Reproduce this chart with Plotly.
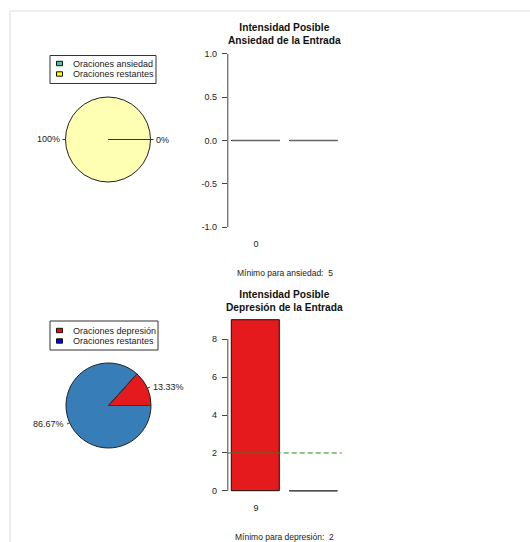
import math
import plotly.graph_objects as go

W, H = 530, 542

# ---------------- data ----------------
pie1_labels = ["Oraciones ansiedad", "Oraciones restantes"]
pie1_values = [0, 15]
pie1_colors = ["#8DD3C7", "#FFFFB3"]
leg1_colors = ["#45C6AC", "#FFFF00"]

pie2_labels = ["Oraciones depresión", "Oraciones restantes"]
pie2_values = [2, 13]
pie2_colors = ["#E41A1C", "#377EB8"]
leg2_colors = ["#FF0000", "#0000FF"]

bar1_names = ["0", ""]
bar1_values = [0, 0]
bar1_title = "Intensidad Posible<br>Ansiedad de la Entrada"
bar1_min_label = "Mínimo para ansiedad:\u00a0 5"
bar1_min = 5
bar1_yticks = [-1.0, -0.5, 0.0, 0.5, 1.0]

bar2_names = ["9", ""]
bar2_values = [9, 0]
bar2_title = "Intensidad Posible<br>Depresión de la Entrada"
bar2_min_label = "Mínimo para depresión:\u00a0 2"
bar2_min = 2
bar2_yticks = [0, 2, 4, 6, 8]

# ---------------- helpers ----------------
def px(x):
    return x / W

def py(y):
    return 1 - y / H

TXT = "#222222"
FONT = "Liberation Sans, Arial, sans-serif"

fig = go.Figure()
shapes = []
annotations = []

# frame lines of the screenshot
shapes.append(dict(type="line", xref="paper", yref="paper", x0=px(10), x1=px(530), y0=py(11), y1=py(11),
                   line=dict(color="#e8e8e8", width=1.5)))
shapes.append(dict(type="line", xref="paper", yref="paper", x0=px(10), x1=px(10), y0=py(11), y1=py(542),
                   line=dict(color="#e8e8e8", width=1.5)))


def add_pie(labels, values, colors, cx, cy, r):
    total = sum(values)
    # plotly places the first counterclockwise slice clockwise of 'rotation'; shift so it starts at 3 o'clock
    rot = 90 - 360 * values[0] / total
    fig.add_trace(go.Pie(
        labels=labels, values=values, sort=False, direction="counterclockwise", rotation=rot,
        marker=dict(colors=colors, line=dict(color="#222", width=1)),
        textinfo="none", hoverinfo="label+percent", showlegend=False,
        domain=dict(x=[px(cx - r), px(cx + r)], y=[py(cy + r), py(cy - r)]),
    ))
    cum = 0
    for v in values:
        a0 = 2 * math.pi * cum / total
        shapes.append(dict(type="line", xref="paper", yref="paper",
                           x0=px(cx), y0=py(cy), x1=px(cx + r * math.cos(a0)), y1=py(cy - r * math.sin(a0)),
                           line=dict(color="#333", width=1)))
        am = 2 * math.pi * (cum + v / 2) / total
        c, s = math.cos(am), math.sin(am)
        shapes.append(dict(type="line", xref="paper", yref="paper",
                           x0=px(cx + r * c), y0=py(cy - r * s), x1=px(cx + 1.07 * r * c), y1=py(cy - 1.07 * r * s),
                           line=dict(color="#333", width=1)))
        pct = round(100 * v / total, 2)
        annotations.append(dict(x=px(cx + 1.09 * r * c), y=py(cy - 1.09 * r * s), xref="paper", yref="paper",
                                text=f"{pct:g}%", showarrow=False,
                                xanchor="left" if c > 0 else "right", yanchor="middle",
                                font=dict(size=9, color=TXT, family=FONT)))
        cum += v


def add_legend(labels, colors, x0, y0, x1, y1, row_y, text_x, sq_x):
    shapes.append(dict(type="rect", xref="paper", yref="paper", x0=px(x0), x1=px(x1), y0=py(y1), y1=py(y0),
                       line=dict(color="#333", width=1), fillcolor="rgba(0,0,0,0)"))
    for i, (lab, col) in enumerate(zip(labels, colors)):
        yy = row_y + i * 10.5
        shapes.append(dict(type="rect", xref="paper", yref="paper", x0=px(sq_x - 3), x1=px(sq_x + 3),
                           y0=py(yy + 2.2), y1=py(yy - 2.2), line=dict(color="#111", width=1), fillcolor=col))
        annotations.append(dict(x=px(text_x), y=py(yy), xref="paper", yref="paper", text=lab, showarrow=False,
                                xanchor="left", yanchor="middle", font=dict(size=9, color=TXT, family=FONT)))


add_pie(pie1_labels, pie1_values, pie1_colors, 108, 139.5, 42.5)
add_legend(pie1_labels, leg1_colors, 50, 55.5, 156, 83.5, 63.5, 71, 59.5)
add_pie(pie2_labels, pie2_values, pie2_colors, 108.5, 405.5, 42.5)
add_legend(pie2_labels, leg2_colors, 50, 321, 158, 350, 330.5, 71, 59.5)


def add_bar(idx, names, values, title, min_label, min_val, yticks, ytop, ybot, title_y, label_y):
    xa = "x" if idx == 1 else f"x{idx}"
    ya = "y" if idx == 1 else f"y{idx}"
    centers = [0.7 + 1.2 * i for i in range(len(values))]
    lo, hi = centers[0] - 0.5, centers[-1] + 0.5
    xr = [lo - 0.04 * (hi - lo), hi + 0.04 * (hi - lo)]
    ymin, ymax = min(0, min(values)), max(values)
    if ymin == ymax:
        ymin, ymax = -1, 1
    yr = [ymin - 0.04 * (ymax - ymin), ymax + 0.04 * (ymax - ymin)]
    x0px = 227.8
    x1px = x0px + (xr[1] - xr[0]) * 48

    fig.add_trace(go.Bar(x=centers, y=values, width=1, xaxis=xa, yaxis=ya,
                         marker=dict(color=["#E41A1C"] * len(values), line=dict(color="#111", width=1)),
                         showlegend=False))
    zx, zy = [], []
    for c, v in zip(centers, values):
        if v == 0:
            zx += [c - 0.5, c + 0.5, None]
            zy += [v, v, None]
    fig.add_trace(go.Scatter(x=zx, y=zy, mode="lines", xaxis=xa, yaxis=ya, line=dict(color="#666", width=1.3),
                             showlegend=False, hoverinfo="skip"))
    fig.add_trace(go.Scatter(x=xr, y=[min_val, min_val], mode="lines", xaxis=xa, yaxis=ya,
                             line=dict(color="#228B22", width=1, dash="5px,3px"), showlegend=False,
                             hoverinfo="skip"))

    lay_x = "xaxis" if idx == 1 else f"xaxis{idx}"
    lay_y = "yaxis" if idx == 1 else f"yaxis{idx}"
    fig.layout[lay_x] = dict(domain=[px(x0px), px(x1px)], range=xr, anchor=ya, showline=False, showgrid=False,
                             zeroline=False, ticks="", tickvals=centers, ticktext=names, ticklabelstandoff=3,
                             tickfont=dict(size=9, color=TXT, family=FONT), fixedrange=True)
    fig.layout[lay_y] = dict(domain=[py(ybot), py(ytop)], range=yr, anchor=xa, showline=False, showgrid=False,
                             zeroline=False, ticks="outside", ticklen=5, tickcolor="#444", tickwidth=1,
                             tickvals=yticks, ticktext=[(f"{t:.1f}" if isinstance(t, float) else str(t)) for t in yticks],
                             ticklabelstandoff=3, tickfont=dict(size=9, color=TXT, family=FONT), fixedrange=True)
    shapes.append(dict(type="line", xref=f"{xa} domain", yref=ya, x0=0, x1=0, y0=yticks[0], y1=yticks[-1],
                       line=dict(color="#444", width=1)))
    xc = px((x0px + x1px) / 2)
    annotations.append(dict(x=xc, y=py(title_y), xref="paper", yref="paper", text=f"<b>{title}</b>",
                            showarrow=False, xanchor="center", yanchor="middle",
                            font=dict(size=10.2, color="#111", family=FONT)))
    annotations.append(dict(x=xc, y=py(label_y), xref="paper", yref="paper", text=min_label,
                            showarrow=False, xanchor="center", yanchor="middle",
                            font=dict(size=8.5, color=TXT, family=FONT)))


add_bar(1, bar1_names, bar1_values, bar1_title, bar1_min_label, bar1_min, bar1_yticks, 47, 234, 33.5, 272.5)
add_bar(2, bar2_names, bar2_values, bar2_title, bar2_min_label, bar2_min, bar2_yticks, 313.2, 497.8, 300.5, 536.5)

fig.update_layout(width=W, height=H, margin=dict(l=0, r=0, t=0, b=0), autosize=False,
                  paper_bgcolor="white", plot_bgcolor="white", bargap=0,
                  shapes=shapes, annotations=annotations, showlegend=False)

fig.write_html("out.html", config={"displayModeBar": False},
               post_script="document.body.style.margin='0px';")
